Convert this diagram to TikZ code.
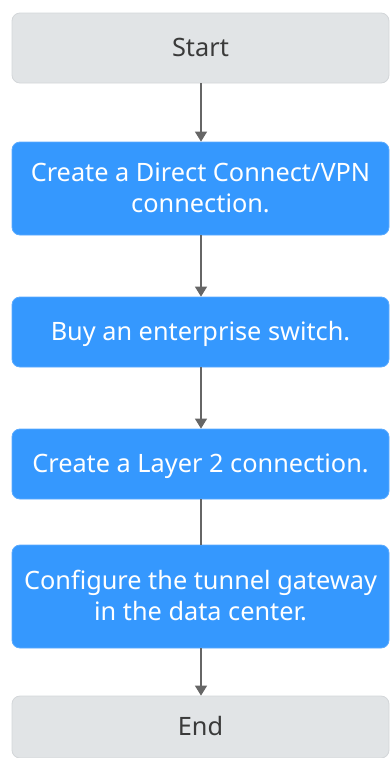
\documentclass[tikz,border=0pt]{standalone}
\usepackage{fontspec}
\setmainfont{Noto Sans}
\usetikzlibrary{arrows.meta}
\definecolor{termfill}{HTML}{E1E4E6}
\definecolor{termline}{HTML}{D3D6D9}
\definecolor{termtext}{HTML}{3A3A3A}
\definecolor{stepfill}{HTML}{3598FE}
\definecolor{stepline}{HTML}{5AAAFE}
\definecolor{flowline}{HTML}{666666}
\tikzset{
  x=1pt, y=-1pt,
  terminal/.style={draw=termline, line width=0.8pt, fill=termfill, rounded corners=8pt,
    minimum width=377pt, text=termtext, font=\fontsize{25.3}{31.5}\selectfont, align=center,
    inner sep=0pt, text depth=2pt},
  stepbox/.style={draw=stepline, line width=0.8pt, fill=stepfill, rounded corners=8pt,
    minimum width=377pt, text=white, font=\fontsize{25.3}{31.5}\selectfont, align=center,
    inner sep=0pt, text depth=2pt},
  flow/.style={draw=flowline, line width=1.5pt, -{Triangle[width=12pt,length=10pt]}},
  plainflow/.style={draw=flowline, line width=1.5pt}
}
\begin{document}
\begin{tikzpicture}
\useasboundingbox (0,0) rectangle (390,758);
\node[terminal, minimum height=70pt] (start) at (200.5,48) {Start};
\node[stepbox, minimum height=93pt] (dc) at (200.5,188.5) {Create a Direct Connect/VPN\\connection.};
\node[stepbox, minimum height=70pt] (sw) at (200.5,332) {Buy an enterprise switch.};
\node[stepbox, minimum height=70pt] (l2) at (200.5,464) {Create a Layer 2 connection.};
\node[stepbox, minimum height=103pt] (gw) at (200.5,596.5) {Configure the tunnel gateway\\in the data center.};
\node[terminal, minimum height=62pt] (end) at (200.5,727) {End};
\draw[flow] (start.south) ++(0.5,0) -- ([xshift=0.5pt]dc.north);
\draw[flow] (dc.south) ++(0.5,0) -- ([xshift=0.5pt]sw.north);
\draw[flow] (sw.south) ++(0.5,0) -- ([xshift=0.5pt]l2.north);
\draw[plainflow] (l2.south) ++(0.5,0) -- ([xshift=0.5pt]gw.north);
\draw[flow] (gw.south) ++(0.5,0) -- ([xshift=0.5pt]end.north);
\end{tikzpicture}
\end{document}
